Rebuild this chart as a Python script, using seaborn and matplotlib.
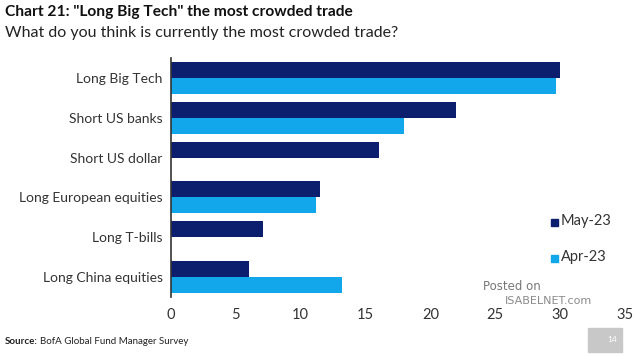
import pandas as pd
import seaborn as sns
import matplotlib.pyplot as plt
from matplotlib.patches import Rectangle

categories = ["Long Big Tech", "Short US banks", "Short US dollar",
              "Long European equities", "Long T-bills", "Long China equities"]
may_23 = [30.0, 22.0, 16.0, 11.5, 7.1, 6.0]
apr_23 = [29.7, 18.0, None, 11.2, None, 13.2]
series = ["May-23", "Apr-23"]
x_ticks = [0, 5, 10, 15, 20, 25, 30, 35]

df = pd.DataFrame({
    "trade": categories * 2,
    "value": may_23 + apr_23,
    "month": [series[0]] * len(categories) + [series[1]] * len(categories),
})

sns.set_style("white")
plt.rcParams["font.family"] = ["Lato", "DejaVu Sans"]

fig = plt.figure(figsize=(6.4, 3.57), dpi=100)
ax = fig.add_axes([171 / 640, 1 - 297 / 357, (625 - 171) / 640, (297 - 58) / 357])

sns.barplot(data=df, y="trade", x="value", hue="month", order=categories,
            hue_order=series, palette=["#0c1f6e", "#12a6ea"], orient="h",
            width=0.8, saturation=1, linewidth=0, ax=ax, legend=False)

ax.set_xlim(0, 35)
ax.set_xticks(x_ticks)
ax.set_xlabel("")
ax.set_ylabel("")
ax.tick_params(axis="x", length=0, labelsize=10.5, colors="#333333", pad=8)
ax.tick_params(axis="y", length=0, labelsize=10, colors="#333333", pad=6)
for side in ["top", "right", "bottom"]:
    ax.spines[side].set_visible(False)
ax.spines["left"].set_color("#333333")
ax.spines["left"].set_linewidth(1.2)

# legend on the right
fig.patches.append(Rectangle((551 / 640, 1 - 226 / 357), 7 / 640, 7 / 357,
                             transform=fig.transFigure, color="#0c1f6e"))
fig.patches.append(Rectangle((551 / 640, 1 - 262 / 357), 7 / 640, 7 / 357,
                             transform=fig.transFigure, color="#12a6ea"))
fig.text(561 / 640, 1 - 221 / 357, "May-23", fontsize=10.5, color="#333333", va="center")
fig.text(561 / 640, 1 - 257 / 357, "Apr-23", fontsize=10.5, color="#333333", va="center")

fig.text(5 / 640, 1 - 12 / 357, 'Chart 21: "Long Big Tech" the most crowded trade',
         fontsize=11.2, fontweight="bold", color="#111111", va="center")
fig.text(5 / 640, 1 - 33 / 357, "What do you think is currently the most crowded trade?",
         fontsize=11.5, color="#222222", va="center")

fig.text(5 / 640, 1 - 341 / 357, "Source:", fontsize=7, fontweight="bold",
         color="#222222", va="center")
fig.text(40 / 640, 1 - 341 / 357, "BofA Global Fund Manager Survey", fontsize=7,
         color="#222222", va="center")

# watermark
fig.text(483 / 640, 1 - 287 / 357, "Posted on", fontsize=8.5, color="#777777",
         family=["DejaVu Sans"], va="center")
fig.text(505 / 640, 1 - 301 / 357, "ISABELNET.com", fontsize=8, color="#8a8a8a",
         family=["DejaVu Sans"], va="center")

# page number box
fig.patches.append(Rectangle((588 / 640, 1 - 352 / 357), 34 / 640, 24 / 357,
                             transform=fig.transFigure, color="#c8c8c8"))
fig.text(612 / 640, 1 - 340 / 357, "14", fontsize=6, color="white", va="center", ha="center")

fig.savefig("out.png", dpi=100)
